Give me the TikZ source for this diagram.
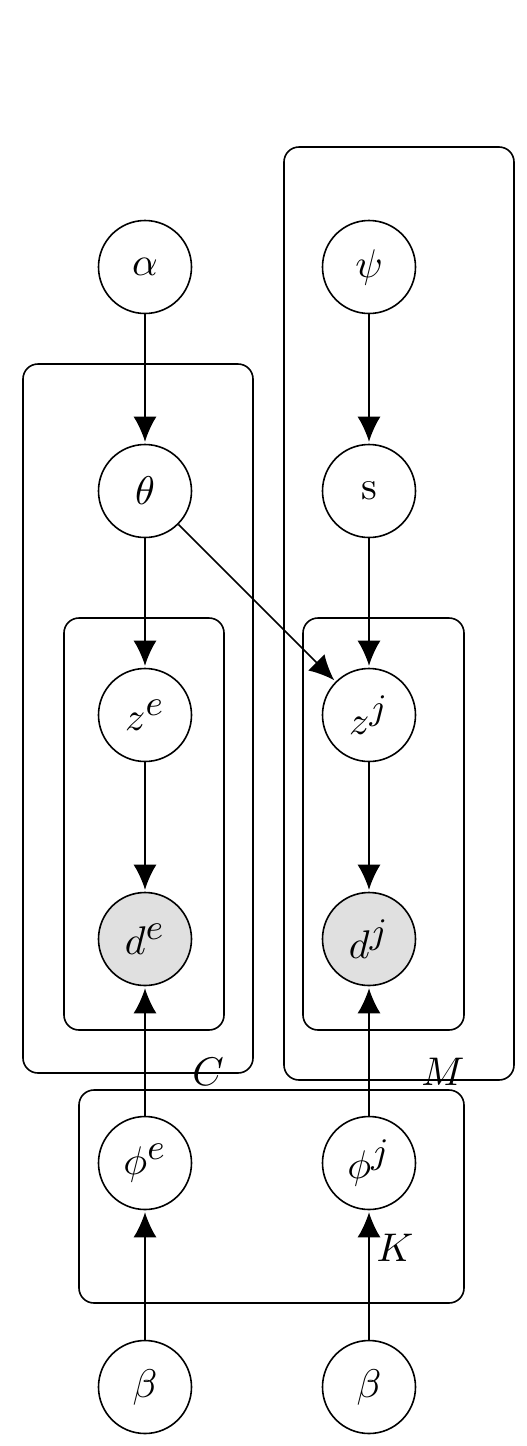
\documentclass[tikz,border=0pt]{standalone}
\usepackage{amssymb}
\usetikzlibrary{positioning,arrows.meta}
\DeclareMathSizes{10}{10}{9}{7}

\begin{document}
\begin{tikzpicture}[->,>={Latex[length=6.25pt,width=5.75pt]},shorten >=0.5pt,
  node distance=56pt,on grid,x=1pt,y=1pt,
  latent/.style={circle,draw,minimum size=23.25pt,inner sep=0pt},
  obs/.style={latent,fill=black!12},
  plate/.style={draw,-,shorten >=0pt,rounded corners=3.75pt}]
  \useasboundingbox (-36.25,66.75) rectangle (95.25,-294.75);
   \node[latent]            (alpha)                    {$\alpha$};
   \node[latent]            (psi)   [right=of alpha]   {$\psi$};
   \node[latent]            (theta) [below=of alpha]   {$\theta$};
   \node[latent]            (s)     [below=of psi]     {s};
   \node[latent]            (ze)    [below=of theta]   {$z^e$};
   \node[latent]            (zj)    [below=of s]       {$z^j$};
   \node[obs]               (de)    [below=of ze]      {$d^e$};
   \node[obs]               (dj)    [below=of zj]      {$d^j$};
   \node[latent]            (phie)  [below=of de]      {$\phi^e$};
   \node[latent]            (phij)  [below=of dj]      {$\phi^j$};
   \node[latent]            (betae) [below=of phie]    {$\beta$};
   \node[latent]            (betaj) [below=of phij]    {$\beta$};
   % plates
   \draw[plate] (-30.5,-24.25) rectangle (27,-201.5);
   \draw[plate] (-20.25,-87.75) rectangle (19.75,-190.75);
   \draw[plate] (34.75,30) rectangle (92.25,-203.25);
   \draw[plate] (39.5,-87.75) rectangle (79.75,-190.75);
   \draw[plate] (-16.5,-205.75) rectangle (79.75,-259);
   \node (C) at (15.75,-201.25) {$C$};
   \node (M) at (74.5,-201.25)  {$M$};
   \node (K) at (62.5,-245.25)  {$K$};
   \path[->]
    (alpha) edge (theta)
    (theta) edge (ze)
            edge (zj)
    (ze)    edge (de)
    (psi)   edge (s)
    (s)     edge (zj)
    (zj)    edge (dj)
    (phie)  edge (de)
    (phij)  edge (dj)
    (betae) edge (phie)
    (betaj) edge (phij);
\end{tikzpicture}
\end{document}
